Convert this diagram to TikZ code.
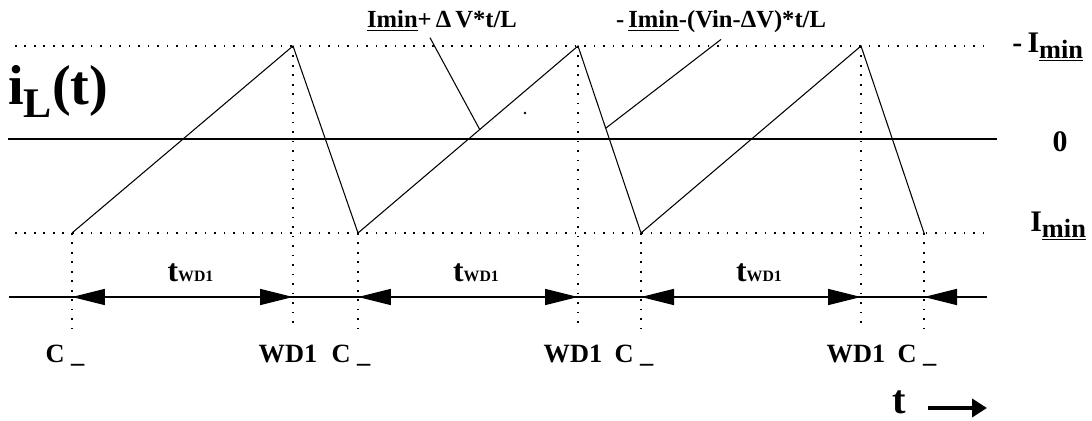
\documentclass[tikz,border=0pt]{standalone}
\usepackage{fontspec}
\setmainfont{Liberation Serif}
\usetikzlibrary{arrows.meta,calc}

\tikzset{
  wave/.style={line width=0.6pt},
  dotline/.style={line width=0.9pt,dash pattern=on 0.9pt off 4.5pt},
  axisline/.style={line width=0.9pt},
  dimarrow/.style={line width=0.8pt,{Triangle[length=0.66cm,width=0.32cm]}-{Triangle[length=0.66cm,width=0.32cm]}},
  lbl/.style={font=\fontsize{15}{16}\selectfont\bfseries,anchor=base,inner sep=0pt},
  toplbl/.style={font=\fontsize{14}{16}\selectfont\bfseries,anchor=base},
  sidelbl/.style={font=\fontsize{17}{19}\selectfont\bfseries,anchor=base west,inner sep=0pt},
}
\newcommand{\twd}{{\fontsize{18}{19}\selectfont t}{\fontsize{9}{10}\selectfont WD1}}
\newcommand{\minsub}{\raisebox{-3pt}{\fontsize{15}{16}\selectfont\underline{min}}}

\begin{document}
\begin{tikzpicture}[x=0.02cm,y=-0.02cm]
\useasboundingbox (0,0) rectangle (1092,421);
% levels
\coordinate (arrowy) at (0,297);
\coordinate (vbot) at (0,330);
\foreach \n/\x in {c1/72,c2/358,c3/641,c4/924} {
    \coordinate (\n) at (\x,233);
}
\foreach \n/\x in {w1/293,w2/578,w3/861} {
    \coordinate (\n) at (\x,46);
}
% dotted levels and zero line
\draw[dotline] (15,46) -- (992,46);
\draw[dotline] (15,233) -- (992,233);
\draw[axisline] (8,139) -- (997,139);
% dotted verticals
\foreach \p in {c1,c2,c3,c4,w1,w2,w3} {
    \draw[dotline] (\p) -- (\p |- vbot);
}
% inductor current
\draw[wave] (c1) -- (w1) -- (c2) -- (w2) -- (c3) -- (w3) -- (c4);
% time line with intervals
\coordinate (astart) at (9,297);
\coordinate (aend) at (987,297);
\draw[line width=0.8pt] (astart) -- (aend);
\foreach \a/\b in {c1/w1,c2/w2,c3/w3} {
    \draw[dimarrow] (\a |- arrowy) -- (\b |- arrowy)
        node[midway,anchor=base,inner sep=0pt,xshift=0.16cm,yshift=0.3cm] {\bfseries\twd};
}
\draw[line width=0.8pt,{Triangle[length=0.66cm,width=0.32cm]}-] (c4 |- arrowy) -- ++(40,0);
% event labels
\foreach \p in {c1,c2,c3,c4} {
    \node[lbl] (lab\p) at ($(\p |- 0,363)+(-7,0)$) {C \_};
}
\foreach \p in {w1,w2,w3} {
    \node[lbl] (lab\p) at ($(\p |- 0,363)+(-5,0)$) {WD1};
}
% axis labels
\node[anchor=base west,inner sep=0pt,font=\fontsize{32}{34}\selectfont\bfseries] (ilabel) at (8,105)
    {i\raisebox{-7pt}{\fontsize{24}{25}\selectfont L}(t)};
\node[sidelbl] (maxlabel) at (1012,53) {-\hspace{3pt}I\minsub};
\node[font=\fontsize{17}{19}\selectfont\bfseries,anchor=base,inner sep=0pt] (zerolabel) at (1060,152) {0};
\node[sidelbl] (minlabel) at (1030,232) {I\minsub};
\node[anchor=base west,inner sep=0pt,font=\fontsize{23}{25}\selectfont\bfseries] (tlabel) at (892,414) {t};
\coordinate (tstart) at (928,408);
\coordinate (tend) at (987,408);
\draw[line width=2.6pt,-{Triangle[length=0.3cm,width=0.36cm]}] (tstart) -- (tend);
% slope labels
\node[toplbl] (slope1) at (442,28) {\underline{Imin}+\,Δ\,V*t/L};
\node[toplbl] (slope2) at (721,28) {-\,\underline{Imin}-(Vin-ΔV)*t/L};
\coordinate (r1) at (480,130);
\coordinate (r2) at (606,128);
\draw[wave] ([xshift=-0.24cm]slope1.south) -- (r1);
\draw[wave] (slope2.south) -- (r2);
\fill (525,113) circle[radius=0.8pt];
\end{tikzpicture}
\end{document}
